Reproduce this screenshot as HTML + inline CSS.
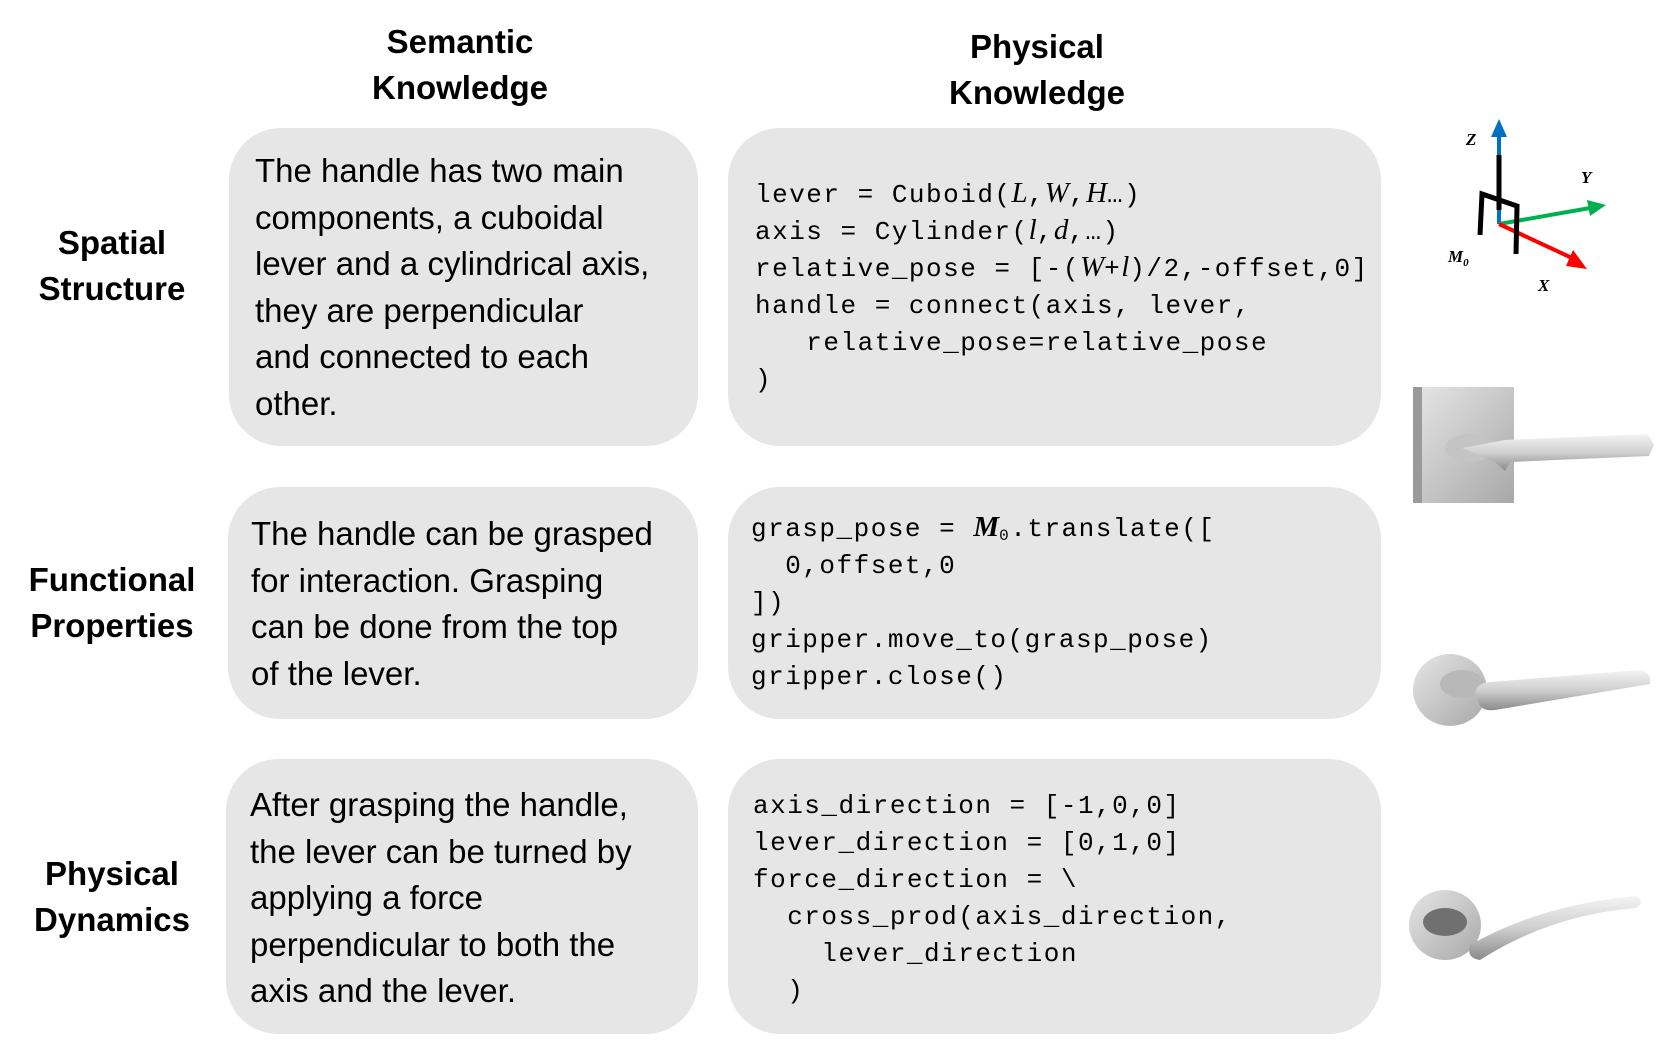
<!DOCTYPE html>
<html><head><meta charset="utf-8"><style>
*{margin:0;padding:0;box-sizing:border-box}
body{width:1660px;height:1047px;background:#fff;position:relative;overflow:hidden;font-family:"Liberation Sans",sans-serif;color:#000}
.h{position:absolute;font-weight:bold;font-size:33px;line-height:46px;text-align:center}
.box{position:absolute;background:#e6e6e6;border-radius:52px}
.t{position:absolute;font-size:33px;line-height:46.6px;white-space:nowrap}
.c{position:absolute;font-family:"Liberation Mono",monospace;font-size:26px;letter-spacing:1.5px;line-height:37px;white-space:pre}
.c i{font-family:"Liberation Serif",serif;font-size:29px;letter-spacing:0;line-height:0}
.c sub{font-size:16px;line-height:0;vertical-align:-4px}
</style></head><body>
<div class="h" style="left:330px;top:19px;width:260px">Semantic<br>Knowledge</div>
<div class="h" style="left:907px;top:24px;width:260px">Physical<br>Knowledge</div>
<div class="h" style="left:0;top:220px;width:224px">Spatial<br>Structure</div>
<div class="h" style="left:0;top:557px;width:224px">Functional<br>Properties</div>
<div class="h" style="left:0;top:851px;width:224px">Physical<br>Dynamics</div>

<div class="box" style="left:229px;top:128px;width:469px;height:318px"></div>
<div class="box" style="left:728px;top:128px;width:653px;height:318px"></div>
<div class="box" style="left:228px;top:487px;width:470px;height:232px"></div>
<div class="box" style="left:728px;top:487px;width:653px;height:232px"></div>
<div class="box" style="left:226px;top:759px;width:472px;height:275px"></div>
<div class="box" style="left:728px;top:759px;width:653px;height:275px"></div>

<div class="t" style="left:255px;top:148px">The handle has two main<br>components, a cuboidal<br>lever and a cylindrical axis,<br>they are perpendicular<br>and connected to each<br>other.</div>
<div class="t" style="left:251px;top:511px">The handle can be grasped<br>for interaction. Grasping<br>can be done from the top<br>of the lever.</div>
<div class="t" style="left:250px;top:782px">After grasping the handle,<br>the lever can be turned by<br>applying a force<br>perpendicular to both the<br>axis and the lever.</div>

<div class="c" style="left:755px;top:177px">lever = Cuboid(<i>L</i>,<i>W</i>,<i>H</i>…)
axis = Cylinder(<i>l</i>,<i>d</i>,…)
relative_pose = [-(<i>W</i>+<i>l</i>)/2,-offset,0]
handle = connect(axis, lever,
   relative_pose=relative_pose
)</div>
<div class="c" style="left:751px;top:511px">grasp_pose = <i><b>M</b></i><sub>0</sub>.translate([
  0,offset,0
])
gripper.move_to(grasp_pose)
gripper.close()</div>
<div class="c" style="left:753px;top:788px">axis_direction = [-1,0,0]
lever_direction = [0,1,0]
force_direction = \
  cross_prod(axis_direction,
    lever_direction
  )</div>

<svg style="position:absolute;left:0;top:0" width="1660" height="1047">
<defs>
<linearGradient id="m" x1="0" y1="0" x2="0" y2="1"><stop offset="0" stop-color="#f4f4f4"/><stop offset=".5" stop-color="#cfcfcf"/><stop offset="1" stop-color="#8a8a8a"/></linearGradient>
<linearGradient id="p" x1="0" y1="0" x2="1" y2="1"><stop offset="0" stop-color="#e6e6e6"/><stop offset="1" stop-color="#a8a8a8"/></linearGradient>
</defs>
<g stroke-width="4" fill="none">
<line x1="1499" y1="224" x2="1499" y2="135" stroke="#0070c0"/>
<polygon points="1491,137 1507,137 1499,119" fill="#0070c0" stroke="none"/>
<line x1="1499" y1="224" x2="1590" y2="208" stroke="#00b050"/>
<polygon points="1587,200 1606,205 1590,216" fill="#00b050" stroke="none"/>
<line x1="1499" y1="224" x2="1572" y2="258" stroke="#f00"/>
<polygon points="1573,250 1587,269 1566,266" fill="#f00" stroke="none"/>
<line x1="1499" y1="155" x2="1499" y2="210" stroke="#000" stroke-width="5"/>
<polyline points="1480,235 1482,194 1517,206 1516,254" stroke="#000" stroke-width="5"/>
</g>
<g font-family="Liberation Serif,serif" font-style="italic" font-weight="bold" font-size="17">
<text x="1466" y="145">Z</text><text x="1581" y="183">Y</text><text x="1538" y="291">X</text><text x="1448" y="262">M<tspan font-size="11" dy="4">0</tspan></text>
</g>
<rect x="1413" y="387" width="101" height="116" fill="url(#p)"/>
<rect x="1413" y="387" width="9" height="116" fill="#9a9a9a"/>
<ellipse cx="1470" cy="448" rx="25" ry="14" fill="#c4c4c4"/>
<polygon points="1462,448 1505,440 1648,434 1654,445 1649,456 1510,462 1505,471 1495,462" fill="url(#m)"/>
<ellipse cx="1450" cy="690" rx="37" ry="36" fill="url(#p)"/>
<ellipse cx="1462" cy="684" rx="22" ry="14" fill="#b8b8b8"/>
<path d="M1478,700 Q1470,684 1490,682 L1640,670 Q1652,672 1650,684 L1495,710 Q1480,712 1478,700Z" fill="url(#m)"/>
<ellipse cx="1445" cy="925" rx="36" ry="35" fill="url(#p)"/>
<ellipse cx="1445" cy="922" rx="22" ry="14" fill="#707070"/>
<path d="M1470,945 Q1540,905 1635,896 Q1646,901 1636,908 Q1550,915 1480,960 Q1466,958 1470,945Z" fill="url(#m)"/>
</svg>
</body></html>
